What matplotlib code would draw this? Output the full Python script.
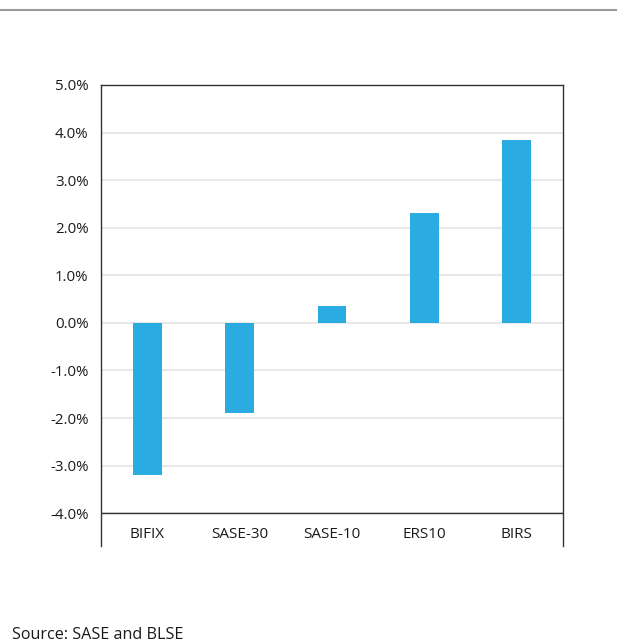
import numpy as np
import matplotlib.pyplot as plt
from matplotlib.ticker import FuncFormatter

plt.rcParams['font.family'] = ['Open Sans', 'DejaVu Sans']

# 数据
categories = ['BIFIX', 'SASE-30', 'SASE-10', 'ERS10', 'BIRS']
returns = [-3.2, -1.89, 0.36, 2.31, 3.84]  # 百分比
y_ticks = [-4, -3, -2, -1, 0, 1, 2, 3, 4, 5]

bar_color = '#2AACE2'
text_color = '#1a1a1a'

fig = plt.figure(figsize=(6.17, 6.44), dpi=100)
# 坐标轴位置（像素换算）
ax = fig.add_axes([101 / 617, 1 - 546 / 644, 462 / 617, (546 - 85) / 644])

x = np.arange(len(categories))
ax.bar(x, returns, width=0.31, color=bar_color, zorder=3)

ax.set_xlim(-0.5, len(categories) - 0.5)
ax.set_ylim(-4.69, 5.0)
ax.set_yticks(y_ticks)
ax.yaxis.set_major_formatter(FuncFormatter(lambda v, p: f'{v:.1f}%'))
ax.grid(axis='y', color='#e4e4e4', linewidth=1.2, zorder=0)
ax.axhline(-4, color='#333333', linewidth=1.0, zorder=4)

ax.set_xticks([])
ax.tick_params(axis='both', length=0, labelsize=10.8, colors=text_color)
ax.tick_params(axis='y', pad=9)
# 类别标签放在 -4% 线下方
for xi, name in zip(x, categories):
    ax.text(xi, -4.45, name, ha='center', va='center', fontsize=11, color=text_color)

for side in ['left', 'right', 'top']:
    ax.spines[side].set_color('#333333')
    ax.spines[side].set_linewidth(1.0)
ax.spines['bottom'].set_visible(False)

# 顶部分隔线
fig.add_artist(plt.Line2D([0, 1], [1 - 10 / 644, 1 - 10 / 644], color='#999999', linewidth=1.5,
                          transform=fig.transFigure))

fig.text(12 / 617, 1 - 635 / 644, 'Source: SASE and BLSE', fontsize=11.6, color=text_color,
         ha='left', va='center')

plt.savefig('out.png', dpi=100)
